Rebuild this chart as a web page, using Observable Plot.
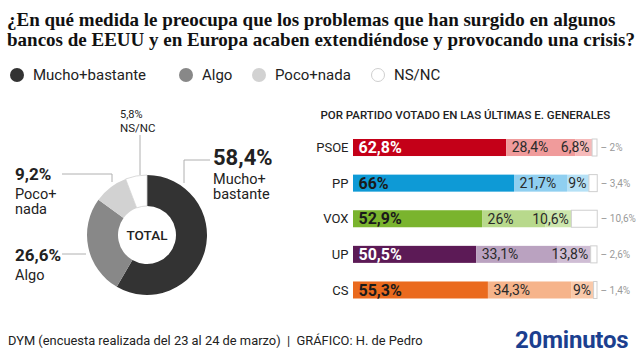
<!DOCTYPE html>
<html><head><meta charset="utf-8">
<script src="https://cdn.jsdelivr.net/npm/d3@7"></script>
<script src="https://cdn.jsdelivr.net/npm/@observablehq/plot@0.6"></script>
<style>
body{margin:0;background:#fff;}
#wrap{position:relative;width:640px;height:360px;overflow:hidden;font-family:Roboto,sans-serif;color:#222;}
#title{position:absolute;left:7px;top:10px;font-family:"Liberation Serif",serif;font-weight:bold;font-size:19px;line-height:20px;white-space:nowrap;color:#111;}
.lg{position:absolute;top:66px;display:flex;align-items:center;font-size:15px;color:#222;white-space:nowrap;}
.sw{width:14px;height:14px;border-radius:50%;margin-right:9px;box-sizing:border-box;}
#chart{position:absolute;left:0;top:95px;}
#footer{position:absolute;left:8px;top:333px;font-size:13px;color:#222;white-space:nowrap;transform-origin:left center;transform:scaleX(0.99);}
#logo{position:absolute;left:515px;top:326px;font-weight:bold;font-size:24px;letter-spacing:-0.2px;color:#1c3f8f;}
</style></head>
<body><div id="wrap">
<div id="title">¿En qué medida le preocupa que los problemas que han surgido en algunos<br>bancos de EEUU y en Europa acaben extendiéndose y provocando una crisis?</div>
<div id="legend"></div>
<div id="chart"></div>
<div id="footer">DYM (encuesta realizada del 23 al 24 de marzo) &nbsp;|&nbsp; GRÁFICO: H. de Pedro</div>
<div id="logo">20minutos</div>
</div>
<script>
// ---- data ----
const totalCats = ["Mucho+bastante", "Algo", "Poco+nada", "NS/NC"];
const totalValues = [58.4, 26.6, 9.2, 5.8];
const parties = ["PSOE", "PP", "VOX", "UP", "CS"];
const mucho = [62.8, 66, 52.9, 50.5, 55.3];
const algo = [28.4, 21.7, 26, 33.1, 34.3];
const poco = [6.8, 9, 10.6, 13.8, 9];
const nsnc = [2, 3.4, 10.6, 2.6, 1.4];
const subtitle = "POR PARTIDO VOTADO EN LAS ÚLTIMAS E. GENERALES";

// ---- styles ----
const greyColors = ["#333333", "#888888", "#d2d2d2", "#ffffff"];
const partyColors = {
  PSOE: ["#c40018", "#f09b9b", "#f6baba", "#ffffff"],
  PP:   ["#0e9ad6", "#8fcff0", "#b6e1f6", "#ffffff"],
  VOX:  ["#7ab42e", "#b8d98c", "#cde6ad", "#ffffff"],
  UP:   ["#5c1a56", "#baa2c0", "#cfbdd4", "#ffffff"],
  CS:   ["#ea6a1e", "#f6b48b", "#f9c9aa", "#ffffff"]
};
const firstLabelFill = {PSOE: "#ffffff", PP: "#1a1a1a", VOX: "#1a1a1a", UP: "#ffffff", CS: "#1a1a1a"};
const fmt = v => String(v).replace(".", ",") + "%";

// ---- legend ----
const legendLeft = [10, 179, 252, 371];
const legend = document.getElementById("legend");
totalCats.forEach((c, i) => {
  const d = document.createElement("div");
  d.className = "lg"; d.style.left = legendLeft[i] + "px";
  const s = document.createElement("span");
  s.className = "sw"; s.style.background = greyColors[i];
  if (i === 3) s.style.border = "1px solid #cfcfcf";
  d.appendChild(s); d.appendChild(document.createTextNode(c));
  legend.appendChild(d);
});

// ---- rows ----
const series = [mucho, algo, poco, nsnc];
const rows = parties.flatMap((p, i) => series.map((arr, k) => ({party: p, cat: k, value: arr[i]})));
const totalRows = totalCats.map((c, i) => ({cat: c, value: totalValues[i], color: greyColors[i]}));

// ---- donut layout (pixel positions of annotations) ----
const donut = {cx: 147, cy: 140, r0: 29, r1: 60};
const donutLabels = [
  {big: true, x: 213, y: 70, size: 22, lines: ["Mucho+", "bastante"], leader: "M210,65H184V88"},
  {x: 15, y: 166, size: 17, lines: ["Algo"], leader: "M62,159H86"},
  {x: 15, y: 85, size: 17, lines: ["Poco+", "nada"], leader: "M62,79H112V87"},
  {small: true, x: 120, y: 23, size: 11, lines: ["NS/NC"], leader: "M140,40V80"}
];

function donutMark() {
  const g = d3.create("svg:g");
  const pie = d3.pie().sort(null).value(d => d.value)(totalRows);
  const arc = d3.arc().innerRadius(donut.r0).outerRadius(donut.r1);
  const gg = g.append("g").attr("transform", `translate(${donut.cx},${donut.cy})`);
  gg.selectAll("path").data(pie).join("path")
    .attr("d", arc)
    .attr("fill", d => d.data.color)
    .attr("stroke", d => d.index === 3 ? "#d0d0d0" : "none")
    .attr("stroke-width", 0.8);
  gg.append("text").attr("text-anchor", "middle").attr("y", 5)
    .attr("font-size", 13.5).attr("font-weight", 500).attr("fill", "#222").text("TOTAL");
  donutLabels.forEach((L, i) => {
    g.append("path").attr("d", L.leader).attr("fill", "none").attr("stroke", "#b0b0b0").attr("stroke-width", 1);
    const t = g.append("text").attr("fill", "#222").attr("text-anchor", "start");
    t.append("tspan").attr("x", L.x).attr("y", L.y)
      .attr("font-size", L.size).attr("font-weight", L.small ? 400 : 700)
      .text(fmt(totalRows[i].value));
    L.lines.forEach((ln, j) => {
      t.append("tspan").attr("x", L.x)
        .attr("y", L.small ? L.y + 14 : L.y + (L.big ? 19 : 19) + j * 15)
        .attr("font-size", L.small ? 11.5 : 14.5).attr("font-weight", 400).text(ln);
    });
  });
  return g.node();
}

const chart = Plot.plot({
  width: 640, height: 225,
  margin: 0,
  style: {fontFamily: "Roboto, sans-serif", background: "transparent", overflow: "visible"},
  x: {domain: [0, 100], range: [353, 597], axis: null},
  y: {domain: parties, range: [34.7, 212.8], padding: 0, axis: null, round: false},
  color: {type: "identity"},
  marks: [
    donutMark,
    Plot.text([subtitle], {text: d => d, frameAnchor: "top-left", dx: 320, dy: 23, lineAnchor: "bottom",
      textAnchor: "start", fontSize: 11.5, fill: "#222", fontWeight: 500}),
    Plot.barX(rows, Plot.stackX({x: "value", y: "party", insetTop: 9.3, insetBottom: 9.3,
      fill: d => partyColors[d.party][d.cat],
      stroke: d => d.cat === 3 ? "#cfcfcf" : "none", strokeWidth: 1})),
    Plot.text(parties, {x: 0, y: d => d, dx: -5, textAnchor: "end", fontSize: 13, fill: "#222"}),
    Plot.text(rows, Plot.stackX1({x: "value", y: "party", text: d => d.cat === 0 ? fmt(d.value) : "",
      dx: 5, textAnchor: "start", fontSize: 16, fontWeight: 700, fill: d => firstLabelFill[d.party]})),
    Plot.text(rows, Plot.stackX1({x: "value", y: "party", text: d => d.cat === 1 ? fmt(d.value) : "",
      dx: 5, textAnchor: "start", fontSize: 14, fill: "#2a2a2a"})),
    Plot.text(rows, Plot.stackX2({x: "value", y: "party", text: d => d.cat === 2 ? fmt(d.value) : "",
      dx: -3, textAnchor: "end", fontSize: 14, fill: "#2a2a2a"})),
    Plot.text(rows, Plot.stackX2({x: "value", y: "party", text: d => d.cat === 3 ? "– " + fmt(d.value) : "",
      dx: 3, textAnchor: "start", fontSize: 10, fill: "#999"}))
  ]
});
document.getElementById("chart").appendChild(chart);
</script>
</body></html>
